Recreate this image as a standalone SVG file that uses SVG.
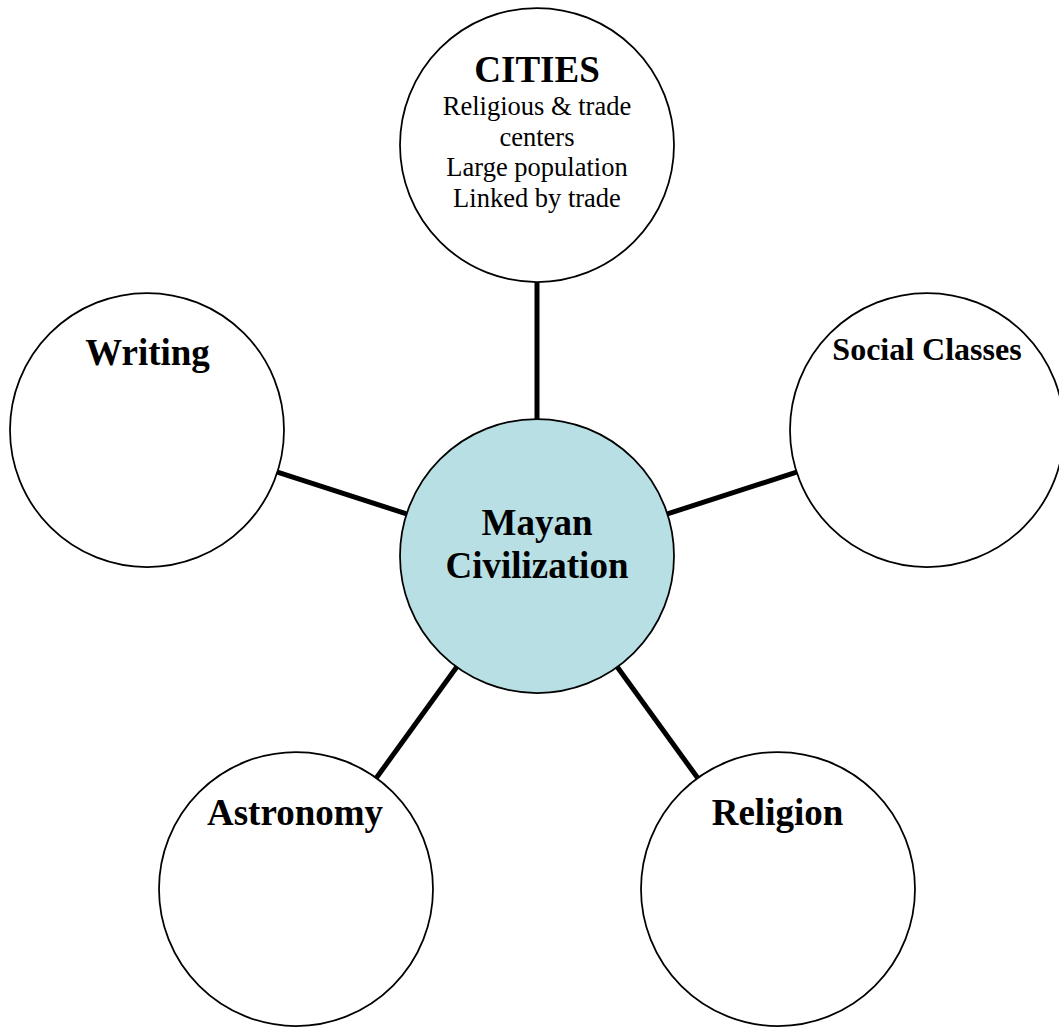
<svg xmlns="http://www.w3.org/2000/svg" width="1059" height="1028" viewBox="0 0 1059 1028">
<style>
.node{fill:#ffffff;stroke:#000000;stroke-width:1.75}
.hub{fill:#b8e0e4;stroke:#000000;stroke-width:1.75}
.conn{stroke:#000000;stroke-width:5;fill:none}
text{font-family:"Liberation Serif","Times New Roman",serif;fill:#000000;text-anchor:middle}
.t{font-weight:bold;font-size:37px}
.ts{font-weight:bold;font-size:32px}
.b{font-size:26.5px}
</style>
<rect x="0" y="0" width="1059" height="1028" fill="#ffffff"/>
<g id="connectors">
<line class="conn" x1="537" y1="282" x2="537" y2="419"/>
<line class="conn" x1="406.6" y1="513.9" x2="277.4" y2="472.1"/>
<line class="conn" x1="667.4" y1="513.9" x2="796.6" y2="472.1"/>
<line class="conn" x1="456.7" y1="667" x2="376.3" y2="778"/>
<line class="conn" x1="617.3" y1="667" x2="697.7" y2="778"/>
</g>
<g id="cities">
<circle class="node" cx="537" cy="145" r="137"/>
<text class="t" x="537" y="82">CITIES</text>
<text class="b" x="537" y="115">Religious &amp; trade</text>
<text class="b" x="537" y="146">centers</text>
<text class="b" x="537" y="176">Large population</text>
<text class="b" x="537" y="206.5">Linked by trade</text>
</g>
<g id="writing">
<circle class="node" cx="147" cy="430" r="137"/>
<text class="t" x="147.5" y="365">Writing</text>
</g>
<g id="social-classes">
<circle class="node" cx="927" cy="430" r="137"/>
<text class="ts" x="927" y="360">Social Classes</text>
</g>
<g id="mayan-civilization">
<circle class="hub" cx="537" cy="556" r="137"/>
<text class="t" x="537" y="535">Mayan</text>
<text class="t" x="537" y="577.5">Civilization</text>
</g>
<g id="astronomy">
<circle class="node" cx="296" cy="889" r="137"/>
<text class="t" x="295" y="825">Astronomy</text>
</g>
<g id="religion">
<circle class="node" cx="778" cy="889" r="137"/>
<text class="t" x="777.5" y="825">Religion</text>
</g>
</svg>
